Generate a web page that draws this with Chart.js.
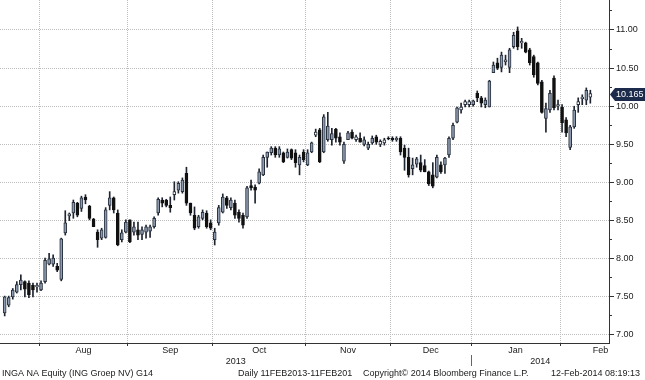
<!DOCTYPE html>
<html>
<head>
<meta charset="utf-8">
<script src="https://cdn.jsdelivr.net/npm/chart.js@4/dist/chart.umd.min.js"></script>
<style>
html,body{margin:0;padding:0;background:#fff;}
#wrap{position:relative;width:645px;height:380px;overflow:hidden;}
canvas{display:block;}
</style>
</head>
<body>
<div id="wrap"><canvas id="c" width="645" height="380"></canvas></div>
<script>
// ---- Data: daily OHLC, INGA NA Equity, 19 Jul 2013 – 12 Feb 2014 (trading-day index) ----
const opens = [
7.29,7.39,7.50,7.56,7.66,7.70,7.68,7.65,7.63,7.59,
7.70,7.93,7.93,7.90,7.73,8.34,8.56,8.60,8.73,8.66,
8.81,8.69,8.52,8.35,8.27,8.28,8.70,8.80,8.60,8.25,
8.35,8.51,8.35,8.38,8.32,8.35,8.36,8.42,8.60,8.77,
8.77,8.70,8.84,8.90,8.88,9.12,8.73,8.57,8.42,8.53,
8.60,8.47,8.25,8.47,8.61,8.80,8.67,8.73,8.61,8.57,
8.55,8.96,8.94,8.99,9.10,9.33,9.39,9.45,9.36,9.39,
9.33,9.43,9.39,9.23,9.40,9.23,9.40,9.62,9.69,9.40,
9.56,9.56,9.70,9.60,9.28,9.56,9.66,9.56,9.58,9.50,
9.45,9.52,9.60,9.50,9.52,9.58,9.58,9.56,9.58,9.45,
9.33,9.18,9.24,9.26,9.22,9.14,9.10,9.07,9.23,9.23,
9.36,9.58,9.79,9.95,10.02,10.02,10.02,10.17,10.11,10.02,
9.99,10.44,10.57,10.51,10.58,10.51,10.78,10.99,10.83,10.83,
10.74,10.65,10.57,10.32,9.84,9.95,10.37,10.00,9.99,9.82,
9.46,9.73,10.02,10.10,10.08,10.12
];
const highs = [
7.51,7.51,7.61,7.70,7.79,7.71,7.71,7.68,7.68,7.71,
8.01,8.07,8.05,7.94,8.27,8.63,8.60,8.77,8.74,8.82,
8.84,8.70,8.53,8.38,8.40,8.67,8.88,8.81,8.64,8.38,
8.51,8.51,8.48,8.48,8.42,8.44,8.44,8.55,8.80,8.80,
8.78,8.81,9.01,9.01,9.06,9.20,8.73,8.68,8.57,8.64,
8.63,8.51,8.40,8.70,8.85,8.82,8.80,8.77,8.64,8.60,
8.95,9.03,8.97,9.18,9.36,9.40,9.47,9.47,9.47,9.40,
9.44,9.44,9.43,9.36,9.43,9.43,9.53,9.70,9.71,9.89,
9.92,9.71,9.71,9.65,9.53,9.67,9.69,9.62,9.65,9.60,
9.53,9.61,9.62,9.56,9.58,9.60,9.60,9.60,9.60,9.49,
9.45,9.32,9.33,9.36,9.30,9.15,9.26,9.36,9.27,9.33,
9.60,9.78,9.99,10.04,10.08,10.08,10.08,10.20,10.13,10.11,
10.34,10.58,10.63,10.71,10.67,10.76,10.97,11.04,10.89,10.84,
10.76,10.67,10.58,10.34,10.04,10.21,10.40,10.08,10.02,9.85,
9.75,10.00,10.11,10.15,10.24,10.21
];
const lows = [
7.25,7.37,7.47,7.55,7.59,7.50,7.49,7.50,7.56,7.58,
7.68,7.92,7.90,7.83,7.71,8.31,8.50,8.53,8.55,8.62,
8.72,8.51,8.42,8.15,8.25,8.27,8.64,8.60,8.17,8.22,
8.34,8.21,8.31,8.25,8.25,8.27,8.28,8.40,8.57,8.68,
8.68,8.61,8.77,8.86,8.86,8.70,8.57,8.38,8.40,8.51,
8.40,8.38,8.18,8.44,8.60,8.66,8.64,8.53,8.48,8.40,
8.53,8.90,8.73,8.98,9.09,9.20,9.36,9.33,9.33,9.26,
9.32,9.30,9.20,9.10,9.27,9.22,9.39,9.60,9.26,9.39,
9.54,9.49,9.53,9.49,9.25,9.56,9.57,9.54,9.53,9.48,
9.43,9.50,9.50,9.47,9.49,9.56,9.54,9.54,9.36,9.16,
9.07,9.10,9.20,9.14,9.14,8.96,8.93,9.06,9.12,9.12,
9.33,9.56,9.78,9.91,9.99,9.99,10.00,10.06,9.99,9.98,
9.99,10.44,10.48,10.45,10.54,10.44,10.76,10.74,10.76,10.70,
10.54,10.38,10.28,9.91,9.66,9.92,9.95,9.95,9.66,9.60,
9.43,9.71,9.92,10.02,10.02,10.04
];
const closes = [
7.50,7.49,7.59,7.66,7.72,7.60,7.53,7.59,7.65,7.68,
7.98,8.00,8.01,7.85,8.26,8.47,8.59,8.74,8.57,8.80,
8.77,8.53,8.42,8.25,8.38,8.64,8.80,8.64,8.18,8.34,
8.48,8.22,8.42,8.31,8.38,8.42,8.42,8.53,8.78,8.73,
8.70,8.67,8.88,8.99,9.03,8.73,8.60,8.40,8.55,8.61,
8.42,8.40,8.35,8.67,8.81,8.70,8.77,8.57,8.53,8.44,
8.93,8.93,8.90,9.14,9.33,9.40,9.45,9.36,9.44,9.27,
9.40,9.32,9.26,9.33,9.30,9.39,9.52,9.66,9.27,9.86,
9.74,9.64,9.58,9.53,9.50,9.65,9.58,9.60,9.53,9.56,
9.50,9.58,9.53,9.54,9.56,9.57,9.56,9.58,9.40,9.33,
9.10,9.23,9.31,9.16,9.14,8.98,8.95,9.33,9.14,9.32,
9.58,9.75,9.98,9.99,10.06,10.06,10.07,10.11,10.04,10.08,
10.33,10.54,10.50,10.67,10.61,10.74,10.93,10.78,10.85,10.71,
10.57,10.41,10.30,9.92,9.97,10.17,9.98,10.02,9.78,9.65,
9.73,9.95,10.06,10.12,10.21,10.165
];
// month boundaries (between trading-day indices) and label centres
const monthBoundaries = [8.5, 30.5, 51.5, 74.5, 95.5, 115.5, 137.5];
const monthLabelPositions = [19.5, 41, 63, 85, 105.5, 126.5, 147.5];
const monthLabels = ['Aug', 'Sep', 'Oct', 'Nov', 'Dec', 'Jan', 'Feb'];
const yearLabelPositions = [57.2, 132.6];
const yearLabels = ['2013', '2014'];
const yearBoundary = 115.5;
const priceTicks = [7.0, 7.5, 8.0, 8.5, 9.0, 9.5, 10.0, 10.5, 11.0];
const priceMinorTicks = [7.0,7.25,7.5,7.75,8.0,8.25,8.5,8.75,9.0,9.25,9.5,9.75,10.0,10.25,10.5,10.75,11.0,11.25];
const lastPrice = 10.165;
const xRange = [-1.16, 149.62];
const yRange = [6.895, 11.393];
const footerTexts = ['INGA NA Equity (ING Groep NV) G14', 'Daily 11FEB2013-11FEB201', 'Copyright\u00A9 2014 Bloomberg Finance L.P.', '12-Feb-2014 08:19:13'];

// ---- Build chart ----
const FONT = "'Liberation Sans', Arial, sans-serif";
Chart.defaults.font.family = FONT;
Chart.defaults.font.size = 9;
Chart.defaults.color = '#1a1a1a';

const idx = closes.map((_, i) => i);
const wickData = idx.map(i => ({x: i, y: [lows[i], highs[i]]}));
const bodyData = idx.map(i => ({x: i, y: [Math.min(opens[i], closes[i]), Math.max(opens[i], closes[i])]}));
const bodyFill = idx.map(i => {
  const d = closes[i] - opens[i];
  if (d < 0) return '#111111';
  if (d < 0.05) return '#ffffff';
  return '#8d9bb0';
});
const bodyBorder = idx.map(i => closes[i] < opens[i] ? '#111111' : '#28303d');

const GRID = '#bdbdbd';
const AXIS = '#333333';

const baseX = {
  type: 'linear', min: xRange[0], max: xRange[1], bounds: 'data', offset: false, position: 'bottom'
};
const noPad = s => { s.paddingTop = 0; s.paddingBottom = 0; s.paddingLeft = 0; s.paddingRight = 0; };

const overlay = {
  id: 'overlay',
  afterDraw(chart) {
    const ctx = chart.ctx;
    const ys = chart.scales.y;
    const y = Math.round(ys.getPixelForValue(lastPrice)) + 0.5;
    const x0 = chart.chartArea.right;
    ctx.save();
    ctx.fillStyle = '#1c2b4b';
    ctx.beginPath();
    ctx.moveTo(x0 + 1, y);
    ctx.lineTo(x0 + 6, y - 6.5);
    ctx.lineTo(645, y - 6.5);
    ctx.lineTo(645, y + 6.5);
    ctx.lineTo(x0 + 6, y + 6.5);
    ctx.closePath();
    ctx.fill();
    ctx.fillStyle = '#ffffff';
    ctx.font = '9px ' + FONT;
    ctx.textBaseline = 'middle';
    ctx.textAlign = 'left';
    ctx.fillText(lastPrice.toFixed(3), x0 + 7, y + 0.5);
    // footer line
    ctx.fillStyle = '#1a1a1a';
    const fx = [2, 238, 363, 551];
    footerTexts.forEach((t, k) => ctx.fillText(t, fx[k], 374));
    ctx.restore();
  }
};

new Chart(document.getElementById('c'), {
  type: 'bar',
  data: {
    datasets: [
      {
        label: 'body', data: bodyData, grouped: false, order: 0,
        barThickness: 3, minBarLength: 1,
        backgroundColor: bodyFill, borderColor: bodyBorder, borderWidth: 1, borderSkipped: false,
        xAxisID: 'x', yAxisID: 'y'
      },
      {
        label: 'wick', data: wickData, grouped: false, order: 1,
        barThickness: 1, backgroundColor: '#1f2530', borderWidth: 0,
        xAxisID: 'x', yAxisID: 'y'
      }
    ]
  },
  options: {
    responsive: false, animation: false, devicePixelRatio: 1, events: [],
    layout: {padding: {left: 0, right: 0, top: 0, bottom: 12}},
    plugins: {legend: {display: false}, tooltip: {enabled: false}},
    scales: {
      x: Object.assign({}, baseX, {
        weight: 0,
        afterBuildTicks: s => { s.ticks = monthBoundaries.map(v => ({value: v})); },
        ticks: {display: false},
        grid: {display: true, offset: false, color: GRID, lineWidth: 1, drawTicks: true, tickLength: 3, tickColor: AXIS, tickWidth: 1},
        border: {display: true, color: AXIS, width: 1, dash: [1, 1]},
        afterFit: s => { s.height = 3; noPad(s); }
      }),
      xm: Object.assign({}, baseX, {
        weight: 1,
        afterBuildTicks: s => { s.ticks = monthLabelPositions.map(v => ({value: v})); },
        ticks: {display: true, autoSkip: false, maxRotation: 0, padding: -1,
          callback: (v, i) => monthLabels[i], color: '#1a1a1a', font: {size: 9, family: FONT}},
        grid: {display: false, offset: false, drawTicks: false},
        border: {display: false},
        afterFit: s => { s.height = 9; noPad(s); }
      }),
      xy: Object.assign({}, baseX, {
        weight: 2,
        afterBuildTicks: s => {
          s.ticks = [{value: yearLabelPositions[0]}, {value: yearBoundary}, {value: yearLabelPositions[1]}];
        },
        ticks: {display: true, autoSkip: false, maxRotation: 0, padding: -10,
          callback: v => v === yearBoundary ? '' : yearLabels[yearLabelPositions.indexOf(v)],
          color: '#1a1a1a', font: {size: 9, family: FONT}},
        grid: {display: true, offset: false, drawOnChartArea: false, drawTicks: true, tickLength: 11,
          tickColor: c => (c.tick && c.tick.value === yearBoundary) ? '#666666' : 'rgba(0,0,0,0)', tickWidth: 1},
        border: {display: false},
        afterFit: s => { s.height = 13; noPad(s); }
      }),
      y2: {
        type: 'linear', position: 'right', weight: 0, min: yRange[0], max: yRange[1], bounds: 'data', beginAtZero: false,
        afterBuildTicks: s => { s.ticks = priceMinorTicks.map(v => ({value: v})); },
        ticks: {display: false},
        grid: {display: true, drawOnChartArea: false, drawTicks: true, tickLength: 3, tickColor: AXIS},
        border: {display: false},
        afterFit: s => { s.width = 0; noPad(s); }
      },
      y: {
        type: 'linear', position: 'right', weight: 1, min: yRange[0], max: yRange[1], bounds: 'data', beginAtZero: false,
        afterBuildTicks: s => { s.ticks = priceTicks.map(v => ({value: v})); },
        ticks: {display: true, padding: 2, callback: v => Number(v).toFixed(2), color: '#1a1a1a', font: {size: 9, family: FONT}},
        grid: {display: true, color: GRID, lineWidth: 1, drawTicks: true, tickLength: 5, tickColor: AXIS},
        border: {display: true, color: AXIS, width: 1, dash: [1, 1]},
        afterFit: s => { s.width = 36; noPad(s); }
      }
    }
  },
  plugins: [overlay]
});
</script>
</body>
</html>
